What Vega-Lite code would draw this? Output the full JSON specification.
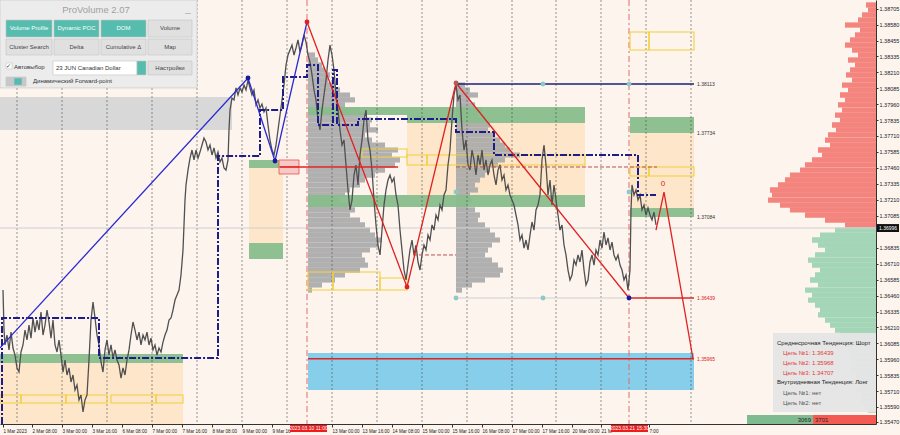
{
"$schema": "https://vega.github.io/schema/vega-lite/v6.json",
"width": 876, "height": 424,
"autosize": {"type": "none"},
"padding": {"left": 0, "top": 0, "right": 24, "bottom": 11},
"background": "#fdf4ee",
"config": {"view": {"stroke": null}, "font": "Liberation Sans", "axis": {"grid": false}},
"datasets": {
"zones": [
{"x":0,"x2":232,"p":1.38015,"p2":1.37757,"kind":"gray"},
{"x":0,"x2":183,"p":1.35931,"p2":1.35454,"kind":"beige"},
{"x":249,"x2":283,"p":1.37459,"p2":1.36872,"kind":"beige"},
{"x":407,"x2":585,"p":1.37812,"p2":1.37248,"kind":"beige"},
{"x":630,"x2":694,"p":1.37733,"p2":1.37146,"kind":"beige"},
{"x":308,"x2":694,"p":1.36010,"p2":1.35720,"kind":"blue"},
{"x":0,"x2":183,"p":1.36002,"p2":1.35931,"kind":"green"},
{"x":249,"x2":283,"p":1.37522,"p2":1.37459,"kind":"green"},
{"x":249,"x2":283,"p":1.36872,"p2":1.36746,"kind":"green"},
{"x":407,"x2":585,"p":1.37937,"p2":1.37812,"kind":"green"},
{"x":308,"x2":407,"p":1.37937,"p2":1.37874,"kind":"green"},
{"x":308,"x2":585,"p":1.37248,"p2":1.37154,"kind":"green"},
{"x":630,"x2":694,"p":1.37859,"p2":1.37733,"kind":"green"},
{"x":630,"x2":694,"p":1.37146,"p2":1.37075,"kind":"green"}
],
"gprof": [
{"x":308,"x2":315,"p":1.38344},{"x":308,"x2":318,"p":1.38305},{"x":308,"x2":322,"p":1.38266},{"x":308,"x2":325,"p":1.38227},{"x":308,"x2":330,"p":1.38188},{"x":308,"x2":328,"p":1.38148},{"x":308,"x2":335,"p":1.38109},{"x":308,"x2":340,"p":1.38070},{"x":308,"x2":350,"p":1.38031},{"x":308,"x2":355,"p":1.37992},{"x":308,"x2":345,"p":1.37953},{"x":308,"x2":360,"p":1.37913},{"x":308,"x2":365,"p":1.37874},{"x":308,"x2":372,"p":1.37835},{"x":308,"x2":370,"p":1.37796},{"x":308,"x2":378,"p":1.37757},{"x":308,"x2":365,"p":1.37718},{"x":308,"x2":372,"p":1.37678},{"x":308,"x2":385,"p":1.37639},{"x":308,"x2":398,"p":1.37600},{"x":308,"x2":392,"p":1.37561},{"x":308,"x2":400,"p":1.37522},{"x":308,"x2":395,"p":1.37483},{"x":308,"x2":385,"p":1.37443},{"x":308,"x2":375,"p":1.37404},{"x":308,"x2":365,"p":1.37365},{"x":308,"x2":360,"p":1.37326},{"x":308,"x2":350,"p":1.37287},{"x":308,"x2":345,"p":1.37248},{"x":308,"x2":340,"p":1.37208},{"x":308,"x2":348,"p":1.37169},{"x":308,"x2":355,"p":1.37131},{"x":308,"x2":350,"p":1.37091},{"x":308,"x2":360,"p":1.37052},{"x":308,"x2":365,"p":1.37013},{"x":308,"x2":370,"p":1.36973},{"x":308,"x2":375,"p":1.36934},{"x":308,"x2":382,"p":1.36895},{"x":308,"x2":378,"p":1.36856},{"x":308,"x2":370,"p":1.36817},{"x":308,"x2":362,"p":1.36778},{"x":308,"x2":365,"p":1.36738},{"x":308,"x2":368,"p":1.36699},{"x":308,"x2":360,"p":1.36660},{"x":308,"x2":345,"p":1.36621},{"x":308,"x2":335,"p":1.36582},{"x":308,"x2":322,"p":1.36543},{"x":308,"x2":312,"p":1.36503},
{"x":456,"x2":465,"p":1.38109},{"x":456,"x2":470,"p":1.38070},{"x":456,"x2":478,"p":1.38031},{"x":456,"x2":470,"p":1.37992},{"x":456,"x2":475,"p":1.37953},{"x":456,"x2":482,"p":1.37913},{"x":456,"x2":478,"p":1.37874},{"x":456,"x2":485,"p":1.37835},{"x":456,"x2":490,"p":1.37796},{"x":456,"x2":488,"p":1.37757},{"x":456,"x2":495,"p":1.37718},{"x":456,"x2":500,"p":1.37678},{"x":456,"x2":505,"p":1.37639},{"x":456,"x2":510,"p":1.37600},{"x":456,"x2":520,"p":1.37561},{"x":456,"x2":505,"p":1.37522},{"x":456,"x2":498,"p":1.37483},{"x":456,"x2":490,"p":1.37443},{"x":456,"x2":485,"p":1.37404},{"x":456,"x2":480,"p":1.37365},{"x":456,"x2":475,"p":1.37326},{"x":456,"x2":478,"p":1.37287},{"x":456,"x2":470,"p":1.37248},{"x":456,"x2":472,"p":1.37208},{"x":456,"x2":468,"p":1.37169},{"x":456,"x2":475,"p":1.37131},{"x":456,"x2":480,"p":1.37091},{"x":456,"x2":478,"p":1.37052},{"x":456,"x2":485,"p":1.37013},{"x":456,"x2":490,"p":1.36973},{"x":456,"x2":495,"p":1.36934},{"x":456,"x2":500,"p":1.36895},{"x":456,"x2":492,"p":1.36856},{"x":456,"x2":488,"p":1.36817},{"x":456,"x2":485,"p":1.36778},{"x":456,"x2":492,"p":1.36738},{"x":456,"x2":498,"p":1.36699},{"x":456,"x2":503,"p":1.36660},{"x":456,"x2":500,"p":1.36621},{"x":456,"x2":485,"p":1.36582},{"x":456,"x2":472,"p":1.36543},{"x":456,"x2":462,"p":1.36503}
],
"rprof": [
{"x":866,"x2":876,"p":1.38736,"kind":"sell"},{"x":868,"x2":876,"p":1.38697,"kind":"sell"},{"x":862,"x2":876,"p":1.38658,"kind":"sell"},{"x":858,"x2":876,"p":1.38618,"kind":"sell"},{"x":845,"x2":876,"p":1.38579,"kind":"sell"},{"x":860,"x2":876,"p":1.38540,"kind":"sell"},{"x":855,"x2":876,"p":1.38501,"kind":"sell"},{"x":850,"x2":876,"p":1.38462,"kind":"sell"},{"x":845,"x2":876,"p":1.38422,"kind":"sell"},{"x":852,"x2":876,"p":1.38383,"kind":"sell"},{"x":858,"x2":876,"p":1.38344,"kind":"sell"},{"x":848,"x2":876,"p":1.38305,"kind":"sell"},{"x":855,"x2":876,"p":1.38266,"kind":"sell"},{"x":850,"x2":876,"p":1.38227,"kind":"sell"},{"x":846,"x2":876,"p":1.38188,"kind":"sell"},{"x":852,"x2":876,"p":1.38148,"kind":"sell"},{"x":842,"x2":876,"p":1.38109,"kind":"sell"},{"x":848,"x2":876,"p":1.38070,"kind":"sell"},{"x":840,"x2":876,"p":1.38031,"kind":"sell"},{"x":845,"x2":876,"p":1.37992,"kind":"sell"},{"x":838,"x2":876,"p":1.37953,"kind":"sell"},{"x":842,"x2":876,"p":1.37913,"kind":"sell"},{"x":835,"x2":876,"p":1.37874,"kind":"sell"},{"x":840,"x2":876,"p":1.37835,"kind":"sell"},{"x":832,"x2":876,"p":1.37796,"kind":"sell"},{"x":836,"x2":876,"p":1.37757,"kind":"sell"},{"x":828,"x2":876,"p":1.37718,"kind":"sell"},{"x":825,"x2":876,"p":1.37678,"kind":"sell"},{"x":830,"x2":876,"p":1.37639,"kind":"sell"},{"x":818,"x2":876,"p":1.37600,"kind":"sell"},{"x":822,"x2":876,"p":1.37561,"kind":"sell"},{"x":812,"x2":876,"p":1.37522,"kind":"sell"},{"x":805,"x2":876,"p":1.37483,"kind":"sell"},{"x":800,"x2":876,"p":1.37443,"kind":"sell"},{"x":790,"x2":876,"p":1.37404,"kind":"sell"},{"x":785,"x2":876,"p":1.37365,"kind":"sell"},{"x":778,"x2":876,"p":1.37326,"kind":"sell"},{"x":770,"x2":876,"p":1.37287,"kind":"sell"},{"x":772,"x2":876,"p":1.37248,"kind":"sell"},{"x":768,"x2":876,"p":1.37208,"kind":"sell"},{"x":780,"x2":876,"p":1.37169,"kind":"sell"},{"x":790,"x2":876,"p":1.37131,"kind":"sell"},{"x":805,"x2":876,"p":1.37091,"kind":"sell"},{"x":825,"x2":876,"p":1.37052,"kind":"sell"},{"x":845,"x2":876,"p":1.37013,"kind":"sell"},
{"x":835,"x2":876,"p":1.36973,"kind":"buy"},{"x":820,"x2":876,"p":1.36934,"kind":"buy"},{"x":812,"x2":876,"p":1.36895,"kind":"buy"},{"x":818,"x2":876,"p":1.36856,"kind":"buy"},{"x":825,"x2":876,"p":1.36817,"kind":"buy"},{"x":815,"x2":876,"p":1.36778,"kind":"buy"},{"x":808,"x2":876,"p":1.36738,"kind":"buy"},{"x":812,"x2":876,"p":1.36699,"kind":"buy"},{"x":820,"x2":876,"p":1.36660,"kind":"buy"},{"x":815,"x2":876,"p":1.36621,"kind":"buy"},{"x":810,"x2":876,"p":1.36582,"kind":"buy"},{"x":818,"x2":876,"p":1.36543,"kind":"buy"},{"x":805,"x2":876,"p":1.36503,"kind":"buy"},{"x":812,"x2":876,"p":1.36464,"kind":"buy"},{"x":808,"x2":876,"p":1.36425,"kind":"buy"},{"x":815,"x2":876,"p":1.36386,"kind":"buy"},{"x":820,"x2":876,"p":1.36347,"kind":"buy"},{"x":818,"x2":876,"p":1.36308,"kind":"buy"},{"x":825,"x2":876,"p":1.36268,"kind":"buy"},{"x":830,"x2":876,"p":1.36229,"kind":"buy"},{"x":835,"x2":876,"p":1.36190,"kind":"buy"},{"x":840,"x2":876,"p":1.36151,"kind":"buy"},{"x":838,"x2":876,"p":1.36112,"kind":"buy"},{"x":845,"x2":876,"p":1.36073,"kind":"buy"},{"x":848,"x2":876,"p":1.36034,"kind":"buy"},{"x":850,"x2":876,"p":1.35994,"kind":"buy"},{"x":852,"x2":876,"p":1.35955,"kind":"buy"},{"x":855,"x2":876,"p":1.35916,"kind":"buy"},{"x":850,"x2":876,"p":1.35877,"kind":"buy"},{"x":856,"x2":876,"p":1.35838,"kind":"buy"},{"x":858,"x2":876,"p":1.35798,"kind":"buy"},{"x":860,"x2":876,"p":1.35759,"kind":"buy"},{"x":855,"x2":876,"p":1.35720,"kind":"buy"},{"x":862,"x2":876,"p":1.35681,"kind":"buy"},{"x":860,"x2":876,"p":1.35642,"kind":"buy"},{"x":865,"x2":876,"p":1.35603,"kind":"buy"},{"x":868,"x2":876,"p":1.35563,"kind":"buy"}
],
"grid": [
{"x":17,"p":1.38775,"p2":1.35454},{"x":62,"p":1.38775,"p2":1.35454},{"x":107,"p":1.38775,"p2":1.35454},{"x":152,"p":1.38775,"p2":1.35454},{"x":197,"p":1.38775,"p2":1.35454},{"x":242,"p":1.38775,"p2":1.35454},{"x":287,"p":1.38775,"p2":1.35454},{"x":332,"p":1.38775,"p2":1.35454},{"x":377,"p":1.38775,"p2":1.35454},{"x":422,"p":1.38775,"p2":1.35454},{"x":467,"p":1.38775,"p2":1.35454},{"x":512,"p":1.38775,"p2":1.35454},{"x":556,"p":1.38775,"p2":1.35454},{"x":601,"p":1.38775,"p2":1.35454},{"x":646,"p":1.38775,"p2":1.35454},{"x":691,"p":1.38775,"p2":1.35454}
],
"sess": [{"x":307,"p":1.38775,"p2":1.35454},{"x":629,"p":1.38775,"p2":1.35454}],
"levels": [
{"x":0,"x2":876,"p":1.36989,"kind":"gray"},
{"x":456,"x2":629,"p":1.36441,"kind":"gray"},
{"x":280,"x2":398,"p":1.37467,"kind":"red"},
{"x":629,"x2":694,"p":1.36441,"kind":"red"},
{"x":308,"x2":694,"p":1.35965,"kind":"red"},
{"x":456,"x2":657,"p":1.37467,"kind":"reddash"},
{"x":413,"x2":456,"p":1.36778,"kind":"reddash"},
{"x":456,"x2":694,"p":1.38117,"kind":"navy"}
],
"tags": [
{"x":279,"x2":299,"p":1.37522,"p2":1.37467},
{"x":279,"x2":299,"p":1.37467,"p2":1.37412}
],
"ybox": [
{"x":0,"x2":21,"p":1.35681,"p2":1.35618},{"x":21,"x2":66,"p":1.35681,"p2":1.35618},{"x":66,"x2":107,"p":1.35681,"p2":1.35618},{"x":111,"x2":156,"p":1.35681,"p2":1.35618},{"x":156,"x2":183,"p":1.35681,"p2":1.35618},
{"x":362,"x2":407,"p":1.37608,"p2":1.37545},{"x":407,"x2":427,"p":1.37561,"p2":1.37483},{"x":427,"x2":585,"p":1.37561,"p2":1.37483},
{"x":308,"x2":333,"p":1.36644,"p2":1.36503},{"x":333,"x2":380,"p":1.36644,"p2":1.36503},{"x":380,"x2":407,"p":1.36598,"p2":1.36503},
{"x":630,"x2":649,"p":1.37467,"p2":1.37396},{"x":649,"x2":694,"p":1.37467,"p2":1.37396},
{"x":630,"x2":649,"p":1.38524,"p2":1.38383},{"x":649,"x2":694,"p":1.38524,"p2":1.38383}
],
"price": [
{"x":3,"p":1.36503},{"x":4,"p":1.36190},{"x":5,"p":1.36073},{"x":7,"p":1.36151},{"x":9,"p":1.36034},{"x":11,"p":1.36174},{"x":13,"p":1.36049},{"x":15,"p":1.35994},{"x":17,"p":1.35893},{"x":19,"p":1.35861},{"x":21,"p":1.36018},{"x":23,"p":1.36073},{"x":25,"p":1.36190},{"x":27,"p":1.36112},{"x":29,"p":1.36229},{"x":31,"p":1.36127},{"x":33,"p":1.36284},{"x":35,"p":1.36174},{"x":37,"p":1.36268},{"x":39,"p":1.36190},{"x":41,"p":1.36331},{"x":43,"p":1.36151},{"x":45,"p":1.36229},{"x":47,"p":1.36347},{"x":49,"p":1.36253},{"x":51,"p":1.36127},{"x":53,"p":1.36268},{"x":55,"p":1.36073},{"x":57,"p":1.36018},{"x":59,"p":1.36112},{"x":61,"p":1.35994},{"x":63,"p":1.35861},{"x":65,"p":1.35955},{"x":67,"p":1.35838},{"x":69,"p":1.35893},{"x":71,"p":1.35783},{"x":73,"p":1.35838},{"x":75,"p":1.35720},{"x":77,"p":1.35759},{"x":79,"p":1.35642},{"x":81,"p":1.35681},{"x":83,"p":1.35548},{"x":85,"p":1.35642},{"x":87,"p":1.35681},{"x":89,"p":1.35955},{"x":91,"p":1.36268},{"x":93,"p":1.36409},{"x":95,"p":1.36284},{"x":97,"p":1.36151},{"x":99,"p":1.36073},{"x":101,"p":1.35940},{"x":103,"p":1.35861},{"x":105,"p":1.36034},{"x":107,"p":1.36112},{"x":109,"p":1.35994},{"x":111,"p":1.36073},{"x":113,"p":1.35971},{"x":115,"p":1.36034},{"x":117,"p":1.35955},{"x":119,"p":1.35916},{"x":121,"p":1.35814},{"x":123,"p":1.35893},{"x":125,"p":1.35838},{"x":127,"p":1.35955},{"x":129,"p":1.36034},{"x":131,"p":1.36151},{"x":133,"p":1.36253},{"x":135,"p":1.36190},{"x":137,"p":1.36112},{"x":139,"p":1.36174},{"x":141,"p":1.36073},{"x":143,"p":1.36151},{"x":145,"p":1.36112},{"x":147,"p":1.36174},{"x":149,"p":1.36073},{"x":151,"p":1.36127},{"x":153,"p":1.36034},{"x":155,"p":1.36073},{"x":157,"p":1.35994},{"x":159,"p":1.36049},{"x":161,"p":1.36018},{"x":163,"p":1.36096},{"x":165,"p":1.36151},{"x":167,"p":1.36190},{"x":169,"p":1.36268},{"x":171,"p":1.36284},{"x":173,"p":1.36347},{"x":175,"p":1.36425},{"x":177,"p":1.36464},{"x":179,"p":1.36503},{"x":181,"p":1.36621},{"x":183,"p":1.36817},{"x":184,"p":1.37013},{"x":185,"p":1.37208},{"x":186,"p":1.37326},{"x":188,"p":1.37443},{"x":190,"p":1.37537},{"x":192,"p":1.37600},{"x":194,"p":1.37522},{"x":196,"p":1.37600},{"x":198,"p":1.37537},{"x":200,"p":1.37584},{"x":202,"p":1.37639},{"x":204,"p":1.37694},{"x":206,"p":1.37663},{"x":208,"p":1.37600},{"x":210,"p":1.37639},{"x":212,"p":1.37561},{"x":214,"p":1.37616},{"x":216,"p":1.37537},{"x":218,"p":1.37584},{"x":220,"p":1.37506},{"x":222,"p":1.37537},{"x":224,"p":1.37459},{"x":226,"p":1.37443},{"x":228,"p":1.37522},{"x":229,"p":1.37757},{"x":230,"p":1.37913},{"x":232,"p":1.38007},{"x":234,"p":1.37992},{"x":236,"p":1.38086},{"x":238,"p":1.38031},{"x":240,"p":1.38086},{"x":242,"p":1.38054},{"x":244,"p":1.38109},{"x":246,"p":1.38070},{"x":248,"p":1.38148},{"x":250,"p":1.38086},{"x":252,"p":1.38031},{"x":254,"p":1.38070},{"x":256,"p":1.37953},{"x":258,"p":1.37992},{"x":260,"p":1.37929},{"x":262,"p":1.37960},{"x":264,"p":1.37898},{"x":266,"p":1.37929},{"x":268,"p":1.37796},{"x":270,"p":1.37678},{"x":272,"p":1.37600},{"x":274,"p":1.37561},{"x":276,"p":1.37639},{"x":278,"p":1.37757},{"x":280,"p":1.37874},{"x":282,"p":1.37992},{"x":284,"p":1.38109},{"x":286,"p":1.38266},{"x":288,"p":1.38344},{"x":290,"p":1.38383},{"x":292,"p":1.38422},{"x":294,"p":1.38344},{"x":296,"p":1.38399},{"x":298,"p":1.38462},{"x":300,"p":1.38368},{"x":302,"p":1.38422},{"x":304,"p":1.38501},{"x":306,"p":1.38446},
{"x":308,"p":1.38344},{"x":310,"p":1.38289},{"x":312,"p":1.38188},{"x":314,"p":1.38070},{"x":316,"p":1.37992},{"x":318,"p":1.37835},{"x":320,"p":1.37757},{"x":322,"p":1.37913},{"x":324,"p":1.38031},{"x":326,"p":1.38148},{"x":328,"p":1.38305},{"x":330,"p":1.38422},{"x":332,"p":1.38344},{"x":334,"p":1.38227},{"x":336,"p":1.38031},{"x":338,"p":1.37913},{"x":340,"p":1.37757},{"x":342,"p":1.37639},{"x":344,"p":1.37678},{"x":346,"p":1.37483},{"x":348,"p":1.37287},{"x":350,"p":1.37131},{"x":352,"p":1.37208},{"x":354,"p":1.37404},{"x":356,"p":1.37483},{"x":358,"p":1.37326},{"x":360,"p":1.37561},{"x":362,"p":1.37678},{"x":364,"p":1.37835},{"x":366,"p":1.37913},{"x":368,"p":1.37678},{"x":370,"p":1.37600},{"x":372,"p":1.37443},{"x":374,"p":1.37208},{"x":376,"p":1.37013},{"x":378,"p":1.36856},{"x":380,"p":1.36778},{"x":382,"p":1.36973},{"x":384,"p":1.37169},{"x":386,"p":1.37287},{"x":388,"p":1.37365},{"x":390,"p":1.37404},{"x":392,"p":1.37349},{"x":394,"p":1.37381},{"x":396,"p":1.37248},{"x":398,"p":1.37169},{"x":400,"p":1.36973},{"x":402,"p":1.36817},{"x":404,"p":1.36660},{"x":406,"p":1.36582},{"x":408,"p":1.36699},{"x":410,"p":1.36817},{"x":412,"p":1.36895},{"x":414,"p":1.36778},{"x":416,"p":1.36856},{"x":418,"p":1.36723},{"x":420,"p":1.36660},{"x":422,"p":1.36778},{"x":424,"p":1.36856},{"x":426,"p":1.36817},{"x":428,"p":1.36934},{"x":430,"p":1.36895},{"x":432,"p":1.37013},{"x":434,"p":1.36973},{"x":436,"p":1.37091},{"x":438,"p":1.37052},{"x":440,"p":1.37169},{"x":442,"p":1.37131},{"x":444,"p":1.37248},{"x":446,"p":1.37287},{"x":448,"p":1.37483},{"x":450,"p":1.37600},{"x":452,"p":1.37835},{"x":454,"p":1.38031},{"x":456,"p":1.38109},{"x":458,"p":1.37992},{"x":460,"p":1.38031},{"x":462,"p":1.37757},{"x":464,"p":1.37600},{"x":466,"p":1.37678},{"x":468,"p":1.37483},{"x":470,"p":1.37443},{"x":472,"p":1.37600},{"x":474,"p":1.37522},{"x":476,"p":1.37404},{"x":478,"p":1.37561},{"x":480,"p":1.37483},{"x":482,"p":1.37600},{"x":484,"p":1.37443},{"x":486,"p":1.37522},{"x":488,"p":1.37404},{"x":490,"p":1.37483},{"x":492,"p":1.37522},{"x":494,"p":1.37404},{"x":496,"p":1.37326},{"x":498,"p":1.37443},{"x":500,"p":1.37483},{"x":502,"p":1.37365},{"x":504,"p":1.37404},{"x":506,"p":1.37287},{"x":508,"p":1.37326},{"x":510,"p":1.37248},{"x":512,"p":1.37208},{"x":514,"p":1.37169},{"x":516,"p":1.37091},{"x":518,"p":1.37013},{"x":520,"p":1.36895},{"x":522,"p":1.36934},{"x":524,"p":1.36832},{"x":526,"p":1.36895},{"x":528,"p":1.36817},{"x":530,"p":1.36934},{"x":532,"p":1.37036},{"x":534,"p":1.36973},{"x":536,"p":1.37131},{"x":538,"p":1.37169},{"x":540,"p":1.37248},{"x":542,"p":1.37522},{"x":544,"p":1.37639},{"x":546,"p":1.37483},{"x":548,"p":1.37248},{"x":550,"p":1.37365},{"x":552,"p":1.37169},{"x":554,"p":1.37326},{"x":556,"p":1.37208},{"x":558,"p":1.37091},{"x":560,"p":1.36973},{"x":562,"p":1.37013},{"x":564,"p":1.36856},{"x":566,"p":1.36778},{"x":568,"p":1.36660},{"x":570,"p":1.36582},{"x":572,"p":1.36621},{"x":574,"p":1.36738},{"x":576,"p":1.36699},{"x":578,"p":1.36778},{"x":580,"p":1.36723},{"x":582,"p":1.36817},{"x":584,"p":1.36660},{"x":586,"p":1.36543},{"x":588,"p":1.36582},{"x":590,"p":1.36723},{"x":592,"p":1.36778},{"x":594,"p":1.36699},{"x":596,"p":1.36817},{"x":598,"p":1.36778},{"x":600,"p":1.36895},{"x":602,"p":1.36832},{"x":604,"p":1.36958},{"x":606,"p":1.36856},{"x":608,"p":1.36911},{"x":610,"p":1.36817},{"x":612,"p":1.36879},{"x":614,"p":1.36778},{"x":616,"p":1.36738},{"x":618,"p":1.36778},{"x":620,"p":1.36699},{"x":622,"p":1.36660},{"x":624,"p":1.36582},{"x":626,"p":1.36621},{"x":628,"p":1.36503},{"x":630,"p":1.36660},{"x":631,"p":1.37131},{"x":632,"p":1.37326},{"x":634,"p":1.37248},{"x":636,"p":1.37287},{"x":638,"p":1.37208},{"x":640,"p":1.37248},{"x":642,"p":1.37131},{"x":644,"p":1.37169},{"x":646,"p":1.37091},{"x":648,"p":1.37146},{"x":650,"p":1.37091},{"x":652,"p":1.37052},{"x":654,"p":1.37114},{"x":656,"p":1.37013}
],
"bstep": [
{"o":1,"x":2,"p":1.35454},{"o":2,"x":2,"p":1.36284},{"o":3,"x":99,"p":1.36284},{"o":4,"x":99,"p":1.35971},{"o":5,"x":218,"p":1.35971},{"o":6,"x":218,"p":1.37553},{"o":7,"x":260,"p":1.37553},{"o":8,"x":260,"p":1.37913},{"o":9,"x":283,"p":1.37913},{"o":10,"x":283,"p":1.38172},{"o":11,"x":307,"p":1.38172},{"o":12,"x":307,"p":1.38266},{"o":13,"x":318,"p":1.38266},{"o":14,"x":318,"p":1.37796},{"o":15,"x":333,"p":1.37796},{"o":16,"x":333,"p":1.38227},{"o":17,"x":337,"p":1.38227},{"o":18,"x":337,"p":1.37796},{"o":19,"x":358,"p":1.37796},{"o":20,"x":358,"p":1.37843},{"o":21,"x":456,"p":1.37843},{"o":22,"x":456,"p":1.37741},{"o":23,"x":494,"p":1.37741},{"o":24,"x":494,"p":1.37561},{"o":25,"x":638,"p":1.37561},{"o":26,"x":638,"p":1.37248},{"o":27,"x":656,"p":1.37248}
],
"zblue": [{"o":1,"x":0,"p":1.36050},{"o":2,"x":248,"p":1.38164},{"o":3,"x":275,"p":1.37514},{"o":4,"x":307,"p":1.38603}],
"zred": [
{"o":1,"seg":"a","x":307,"p":1.38603},{"o":2,"seg":"a","x":407,"p":1.36527},{"o":3,"seg":"a","x":456,"p":1.38125},{"o":4,"seg":"a","x":629,"p":1.36441},
{"o":5,"seg":"b","x":656,"p":1.36973},{"o":6,"seg":"b","x":664,"p":1.37271},{"o":7,"seg":"b","x":693,"p":1.35965}
],
"dots": [
{"x":248,"p":1.38164,"kind":"navy"},{"x":275,"p":1.37514,"kind":"navy"},{"x":629,"p":1.36441,"kind":"navy"},
{"x":307,"p":1.38603,"kind":"red"},{"x":407,"p":1.36527,"kind":"red"},{"x":456,"p":1.38125,"kind":"brown"},
{"x":456,"p":1.37271,"kind":"teal"},{"x":456,"p":1.36441,"kind":"teal"},{"x":543,"p":1.36441,"kind":"teal"},{"x":543,"p":1.38117,"kind":"teal"},{"x":629,"p":1.38117,"kind":"teal"},{"x":629,"p":1.37271,"kind":"teal"}
],
"lvlabels": [
{"x":697,"p":1.38117,"text":"1.38113","kind":"dark"},
{"x":697,"p":1.37733,"text":"1.37734","kind":"dark"},
{"x":697,"p":1.37075,"text":"1.37084","kind":"dark"},
{"x":697,"p":1.36441,"text":"1.36439","kind":"red"},
{"x":697,"p":1.35965,"text":"1.35965","kind":"red"}
],
"mark0": [{"x":663,"p":1.37334,"text":"0"}],
"infobox": [{"x":773,"x2":876,"p":1.36167,"p2":1.35548}],
"infotext": [
{"x":777,"p":1.36088,"text":"Среднесрочная Тенденция: Шорт","kind":"head"},
{"x":783,"p":1.36010,"text":"Цель №1: 1.36439","kind":"red"},
{"x":783,"p":1.35932,"text":"Цель №2: 1.35968","kind":"red"},
{"x":783,"p":1.35853,"text":"Цель №3: 1.34707","kind":"red"},
{"x":777,"p":1.35783,"text":"Внутридневная Тенденция: Лонг","kind":"head"},
{"x":783,"p":1.35697,"text":"Цель №1: нет","kind":"gray"},
{"x":783,"p":1.35618,"text":"Цель №2: нет","kind":"gray"}
],
"bbar": [{"x":747,"x2":813,"p":1.35524,"p2":1.35454,"kind":"buy"},{"x":813,"x2":876,"p":1.35524,"p2":1.35454,"kind":"sell"}],
"bbartext": [{"x":811,"p":1.35489,"text":"3069","side":"left"},{"x":815,"p":1.35489,"text":"3701","side":"right"}],
"panel": [
{"x":0,"x2":197,"p":1.38775,"p2":1.38086,"kind":"bg"},
{"x":6,"x2":52,"p":1.38618,"p2":1.38485,"kind":"teal"},{"x":54,"x2":99,"p":1.38618,"p2":1.38485,"kind":"teal"},{"x":101,"x2":146,"p":1.38618,"p2":1.38485,"kind":"teal"},{"x":148,"x2":192,"p":1.38618,"p2":1.38485,"kind":"btn"},
{"x":6,"x2":52,"p":1.38470,"p2":1.38344,"kind":"btn"},{"x":54,"x2":99,"p":1.38470,"p2":1.38344,"kind":"btn"},{"x":101,"x2":146,"p":1.38470,"p2":1.38344,"kind":"btn"},{"x":148,"x2":192,"p":1.38470,"p2":1.38344,"kind":"btn"},
{"x":53,"x2":137,"p":1.38297,"p2":1.38188,"kind":"white"},{"x":137,"x2":146,"p":1.38297,"p2":1.38188,"kind":"teal"},{"x":148,"x2":192,"p":1.38297,"p2":1.38188,"kind":"btn"},
{"x":6,"x2":12,"p":1.38282,"p2":1.38235,"kind":"white"},
{"x":6,"x2":26,"p":1.38172,"p2":1.38101,"kind":"toggle"},{"x":14,"x2":22,"p":1.38164,"p2":1.38109,"kind":"teal"}
],
"ptitle": [{"x":96,"p":1.38697,"text":"ProVolume 2.07"},{"x":188,"p":1.38705,"text":"_"}],
"pcenter": [
{"x":29,"p":1.38552,"text":"Volume Profile","kind":"w"},{"x":76.5,"p":1.38552,"text":"Dynamic POC","kind":"w"},{"x":123.5,"p":1.38552,"text":"DOM","kind":"w"},{"x":170,"p":1.38552,"text":"Volume","kind":"d"},
{"x":29,"p":1.38407,"text":"Cluster Search","kind":"d"},{"x":76.5,"p":1.38407,"text":"Delta","kind":"d"},{"x":123.5,"p":1.38407,"text":"Cumulative Δ","kind":"d"},{"x":170,"p":1.38407,"text":"Map","kind":"d"},
{"x":170,"p":1.38242,"text":"Настройки","kind":"d"}
],
"pleft": [
{"x":6,"p":1.38258,"text":"✓"},
{"x":14,"p":1.38250,"text":"Автовыбор"},
{"x":56,"p":1.38242,"text":"23 JUN Canadian Dollar"},
{"x":33,"p":1.38137,"text":"Динамический Forward-point"}
],
"axbox": [
{"x":290,"x2":327,"p":1.35446,"p2":1.35391,"kind":"red"},
{"x":611,"x2":648,"p":1.35446,"p2":1.35391,"kind":"red"},
{"x":877,"x2":899,"p":1.37020,"p2":1.36958,"kind":"black"}
],
"axtext": [
{"x":308.5,"p":1.35419,"text":"2023.03.10 11:00"},
{"x":629.5,"p":1.35419,"text":"2023.03.21 15:30"},
{"x":888,"p":1.36989,"text":"1.36996"}
]
},
"encoding": {
"x": {"field": "x", "type": "quantitative", "title": null,
 "scale": {"domain": [0, 876], "nice": false, "zero": false},
 "axis": {"orient": "bottom", "values": [3,32,62,92,122,152,182,212,242,272,332,362,392,422,452,482,512,542,572,601,649],
  "labelExpr": "['1 Mar 2023','2 Mar 08:00','3 Mar 00:00','3 Mar 16:00','6 Mar 08:00','7 Mar 00:00','7 Mar 16:00','8 Mar 08:00','9 Mar 00:00','9 Mar 16','13 Mar 00:00','13 Mar 16:00','14 Mar 08:00','15 Mar 00:00','15 Mar 16:00','16 Mar 08:00','17 Mar 00:00','17 Mar 16:00','20 Mar 09:00','21 M','7:00'][indexof([3,32,62,92,122,152,182,212,242,272,332,362,392,422,452,482,512,542,572,601,649], datum.value)]",
  "labelAlign": "left", "labelBaseline": "top", "labelFontSize": 4.6, "labelColor": "#222", "labelPadding": 1,
  "labelOverlap": false, "labelFlush": false, "tickSize": 3, "tickColor": "#333", "domainColor": "#333", "grid": false}},
"y": {"field": "p", "type": "quantitative", "title": null,
 "scale": {"domain": [1.35454, 1.38775], "nice": false, "zero": false},
 "axis": {"orient": "right", "values": [1.38705,1.3858,1.38455,1.38335,1.3821,1.38085,1.3796,1.37835,1.3771,1.37585,1.3746,1.37335,1.3721,1.37085,1.36835,1.3671,1.36585,1.3646,1.36335,1.3621,1.36085,1.3596,1.35835,1.3571,1.3559,1.3547],
  "format": ".5f", "labelFontSize": 5.5, "labelColor": "#222", "labelPadding": 1, "labelOverlap": false, "labelFlush": false,
  "tickSize": 2, "tickColor": "#333", "domainColor": "#333", "grid": false}}
},
"layer": [
{"data": {"name": "zones"}, "transform": [{"filter": "datum.kind != 'green'"}], "mark": {"type": "rect"},
 "encoding": {"x2": {"field": "x2"}, "y2": {"field": "p2"},
  "color": {"field": "kind", "type": "nominal", "legend": null, "scale": {"domain": ["gray","beige","blue"], "range": ["#d8d8d8","#fde6c9","#87ceeb"]}}}},
{"data": {"name": "gprof"}, "mark": {"type": "rule", "color": "#a8a8a8", "strokeWidth": 5.2, "opacity": 0.9},
 "encoding": {"x2": {"field": "x2"}}},
{"data": {"name": "rprof"}, "mark": {"type": "rule", "strokeWidth": 5.3},
 "encoding": {"x2": {"field": "x2"},
  "color": {"field": "kind", "type": "nominal", "legend": null, "scale": {"domain": ["sell","buy"], "range": ["#f4857e","#a3d5b7"]}}}},
{"data": {"name": "zones"}, "transform": [{"filter": "datum.kind == 'green'"}], "mark": {"type": "rect", "color": "#88bd8b", "opacity": 0.95},
 "encoding": {"x2": {"field": "x2"}, "y2": {"field": "p2"}}},
{"data": {"name": "grid"}, "mark": {"type": "rule", "color": "#444", "strokeWidth": 0.7, "strokeDash": [2, 2], "opacity": 0.8},
 "encoding": {"y2": {"field": "p2"}}},
{"data": {"name": "levels"}, "transform": [{"filter": "datum.kind == 'gray'"}], "mark": {"type": "rule", "color": "#cfcfcf", "strokeWidth": 1},
 "encoding": {"x2": {"field": "x2"}}},
{"data": {"name": "sess"}, "mark": {"type": "rule", "color": "#e06a6a", "strokeWidth": 1, "strokeDash": [6, 3, 2, 3]},
 "encoding": {"y2": {"field": "p2"}}},
{"data": {"name": "tags"}, "mark": {"type": "rect", "fill": "#f9c9c6", "stroke": "#e04040", "strokeWidth": 0.7},
 "encoding": {"x2": {"field": "x2"}, "y2": {"field": "p2"}}},
{"data": {"name": "ybox"}, "mark": {"type": "rect", "fill": "transparent", "stroke": "#f2d03b", "strokeWidth": 1.1},
 "encoding": {"x2": {"field": "x2"}, "y2": {"field": "p2"}}},
{"data": {"name": "price"}, "mark": {"type": "line", "color": "#505050", "strokeWidth": 1.3},
 "encoding": {}},
{"data": {"name": "levels"}, "transform": [{"filter": "datum.kind == 'red'"}], "mark": {"type": "rule", "color": "#e02424", "strokeWidth": 1.3},
 "encoding": {"x2": {"field": "x2"}}},
{"data": {"name": "levels"}, "transform": [{"filter": "datum.kind == 'reddash'"}], "mark": {"type": "rule", "color": "#b85050", "strokeWidth": 1, "strokeDash": [4, 2]},
 "encoding": {"x2": {"field": "x2"}}},
{"data": {"name": "levels"}, "transform": [{"filter": "datum.kind == 'navy'"}], "mark": {"type": "rule", "color": "#1b1f7a", "strokeWidth": 1.5},
 "encoding": {"x2": {"field": "x2"}}},
{"data": {"name": "bstep"}, "mark": {"type": "line", "color": "#1c1c8a", "strokeWidth": 2, "strokeDash": [7, 2, 2, 2]},
 "encoding": {"order": {"field": "o", "type": "quantitative"}}},
{"data": {"name": "zblue"}, "mark": {"type": "line", "color": "#2a2ad4", "strokeWidth": 1.3},
 "encoding": {"order": {"field": "o", "type": "quantitative"}}},
{"data": {"name": "zred"}, "mark": {"type": "line", "color": "#e02020", "strokeWidth": 1.3},
 "encoding": {"order": {"field": "o", "type": "quantitative"}, "detail": {"field": "seg", "type": "nominal"}}},
{"data": {"name": "dots"}, "mark": {"type": "point", "filled": true, "size": 24, "opacity": 1},
 "encoding": {"color": {"field": "kind", "type": "nominal", "legend": null, "scale": {"domain": ["navy","red","brown","teal"], "range": ["#1a1a9c","#e02020","#b35a5a","#8ccac5"]}}}},
{"data": {"name": "lvlabels"}, "mark": {"type": "text", "align": "left", "baseline": "middle", "fontSize": 5},
 "encoding": {"text": {"field": "text"},
  "color": {"field": "kind", "type": "nominal", "legend": null, "scale": {"domain": ["dark","red"], "range": ["#333333","#e02020"]}}}},
{"data": {"name": "mark0"}, "mark": {"type": "text", "align": "center", "baseline": "middle", "fontSize": 8, "color": "#e02020"},
 "encoding": {"text": {"field": "text"}}},
{"data": {"name": "infobox"}, "mark": {"type": "rect", "color": "#e5e5e5", "opacity": 0.97},
 "encoding": {"x2": {"field": "x2"}, "y2": {"field": "p2"}}},
{"data": {"name": "infotext"}, "mark": {"type": "text", "align": "left", "baseline": "middle", "fontSize": 6},
 "encoding": {"text": {"field": "text"},
  "color": {"field": "kind", "type": "nominal", "legend": null, "scale": {"domain": ["head","red","gray"], "range": ["#222222","#e53935","#555555"]}}}},
{"data": {"name": "bbar"}, "mark": {"type": "rect"},
 "encoding": {"x2": {"field": "x2"}, "y2": {"field": "p2"},
  "color": {"field": "kind", "type": "nominal", "legend": null, "scale": {"domain": ["buy","sell"], "range": ["#80bb8f","#f25a52"]}}}},
{"data": {"name": "bbartext"}, "transform": [{"filter": "datum.side == 'left'"}], "mark": {"type": "text", "align": "right", "baseline": "middle", "fontSize": 6, "color": "#222"},
 "encoding": {"text": {"field": "text"}}},
{"data": {"name": "bbartext"}, "transform": [{"filter": "datum.side == 'right'"}], "mark": {"type": "text", "align": "left", "baseline": "middle", "fontSize": 6, "color": "#222"},
 "encoding": {"text": {"field": "text"}}},
{"data": {"name": "panel"}, "mark": {"type": "rect", "stroke": "#c4c4c4", "strokeWidth": 0.6},
 "encoding": {"x2": {"field": "x2"}, "y2": {"field": "p2"},
  "color": {"field": "kind", "type": "nominal", "legend": null, "scale": {"domain": ["bg","teal","btn","white","toggle"], "range": ["#ececec","#55bcae","#e0e0e0","#ffffff","#c8c8c8"]}}}},
{"data": {"name": "ptitle"}, "mark": {"type": "text", "align": "center", "baseline": "middle", "fontSize": 9.5, "color": "#a0a0a0"},
 "encoding": {"text": {"field": "text"}}},
{"data": {"name": "pcenter"}, "mark": {"type": "text", "align": "center", "baseline": "middle", "fontSize": 6},
 "encoding": {"text": {"field": "text"},
  "color": {"field": "kind", "type": "nominal", "legend": null, "scale": {"domain": ["w","d"], "range": ["#ffffff","#444444"]}}}},
{"data": {"name": "pleft"}, "mark": {"type": "text", "align": "left", "baseline": "middle", "fontSize": 6, "color": "#333"},
 "encoding": {"text": {"field": "text"}}},
{"data": {"name": "axbox"}, "mark": {"type": "rect"},
 "encoding": {"x2": {"field": "x2"}, "y2": {"field": "p2"},
  "color": {"field": "kind", "type": "nominal", "legend": null, "scale": {"domain": ["red","black"], "range": ["#ee1c1c","#111111"]}}}},
{"data": {"name": "axtext"}, "mark": {"type": "text", "align": "center", "baseline": "middle", "fontSize": 5, "color": "#ffffff"},
 "encoding": {"text": {"field": "text"}}}
],
"resolve": {"scale": {"color": "independent"}}
}
